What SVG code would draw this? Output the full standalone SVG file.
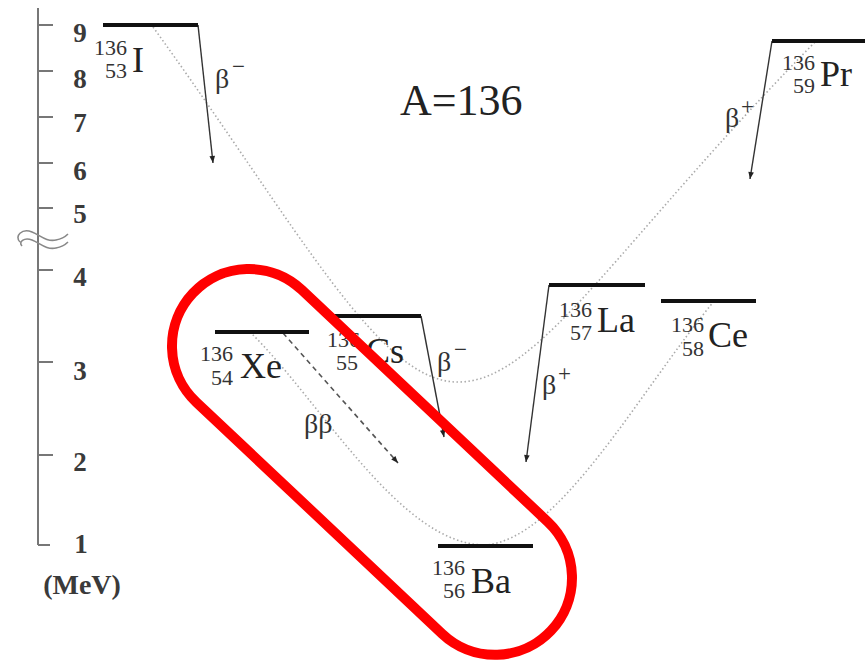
<svg xmlns="http://www.w3.org/2000/svg" width="865" height="663" viewBox="0 0 865 663">
<defs>
<style>
.lvl{stroke:#111;stroke-width:4;fill:none}
.ax{stroke:#777;stroke-width:2;fill:none}
.axt{font-family:"Liberation Serif",serif;font-size:27px;font-weight:bold;fill:#3a3a3a;text-anchor:middle}
.sym{font-family:"Liberation Serif",serif;font-size:36px;fill:#222}
.iso{font-family:"Liberation Serif",serif;font-size:22px;fill:#333;text-anchor:end}
.beta{font-family:"Liberation Serif",serif;font-size:28px;fill:#333}
.sup{font-family:"Liberation Serif",serif;font-size:23px;fill:#333}
.dec{stroke:#333;stroke-width:1.4;fill:none}
.dot{stroke:#aaa;stroke-width:1.6;fill:none;stroke-dasharray:1.5 2.5}
</style>
<marker id="ah" viewBox="0 0 10 10" refX="10" refY="5" markerWidth="11" markerHeight="7" orient="auto" markerUnits="userSpaceOnUse">
<path d="M0,1 L10,5 L0,9 z" fill="#222"/>
</marker>
</defs>
<rect width="865" height="663" fill="#fff"/>

<g id="axis">
<line class="ax" x1="38" y1="8" x2="38" y2="545"/>
<path class="ax" d="M38,25h15M38,71h15M38,117h15M38,163h15M38,208h15M38,270h15M38,362h15M38,455h15M38,545h12"/>
<path d="M20,242 c-6,-6 2,-14 12,-10 c8,3 14,10 24,8 c6,-1 10,-4 12,-6 M22,246 c-4,-4 2,-9 10,-6 c8,3 14,10 24,8 c6,-1 10,-4 12,-6" stroke="#888" stroke-width="1.6" fill="none"/>
<text class="axt" x="80" y="42">9</text>
<text class="axt" x="80" y="88">8</text>
<text class="axt" x="80" y="132">7</text>
<text class="axt" x="80" y="180">6</text>
<text class="axt" x="80" y="223">5</text>
<text class="axt" x="80" y="286">4</text>
<text class="axt" x="80" y="380">3</text>
<text class="axt" x="80" y="471">2</text>
<text class="axt" x="81" y="553">1</text>
<text class="axt" x="82" y="594" style="font-size:28px">(MeV)</text>
</g>

<text id="title" x="400" y="115" style="font-family:'Liberation Serif',serif;font-size:44px;fill:#222">A=136</text>

<g id="connectors">
<path class="dot" d="M153,27 C300,230 380,385 460,382 C540,380 620,240 817,40"/>
<path class="dot" d="M250,332 C320,400 400,545 485,545 C560,540 640,390 715,300"/>
<line class="dec" x1="198" y1="25" x2="213" y2="163" marker-end="url(#ah)"/>
<line class="dec" x1="421" y1="316" x2="444" y2="437" marker-end="url(#ah)"/>
<line class="dec" x1="549" y1="285" x2="526" y2="462" marker-end="url(#ah)"/>
<line class="dec" x1="772" y1="41" x2="750" y2="179" marker-end="url(#ah)"/>
<line x1="283" y1="333" x2="398" y2="463" stroke="#555" stroke-width="1.6" stroke-dasharray="5 4" marker-end="url(#ah)"/>
<text class="beta" x="215" y="88">β</text><text class="sup" x="232" y="74">−</text>
<text class="beta" x="437" y="371">β</text><text class="sup" x="454" y="357">−</text>
<text class="beta" x="542" y="394">β</text><text class="sup" x="558" y="381">+</text>
<text class="beta" x="725" y="127">β</text><text class="sup" x="741" y="114">+</text>
<text class="beta" x="304" y="433">ββ</text>
</g>

<g id="I136">
<line class="lvl" x1="103" y1="25" x2="198" y2="25"/>
<text class="iso" x="127" y="55">136</text>
<text class="iso" x="127" y="78">53</text>
<text class="sym" x="132" y="72">I</text>
</g>
<g id="Xe136">
<line class="lvl" x1="215" y1="332" x2="309" y2="332"/>
<text class="iso" x="233" y="361">136</text>
<text class="iso" x="233" y="385">54</text>
<text class="sym" x="240" y="378">Xe</text>
</g>
<g id="Cs136">
<line class="lvl" x1="330" y1="316" x2="421" y2="316"/>
<text class="iso" x="360" y="347">136</text>
<text class="iso" x="358" y="370">55</text>
<text class="sym" x="366" y="363">Cs</text>
</g>
<g id="Ba136">
<line class="lvl" x1="438" y1="546" x2="533" y2="546"/>
<text class="iso" x="465" y="575">136</text>
<text class="iso" x="465" y="598">56</text>
<text class="sym" x="471" y="593">Ba</text>
</g>
<g id="La136">
<line class="lvl" x1="549" y1="285" x2="645" y2="285"/>
<text class="iso" x="592" y="317">136</text>
<text class="iso" x="592" y="340">57</text>
<text class="sym" x="597" y="332">La</text>
</g>
<g id="Ce136">
<line class="lvl" x1="661" y1="301" x2="756" y2="301"/>
<text class="iso" x="704" y="332">136</text>
<text class="iso" x="704" y="356">58</text>
<text class="sym" x="708" y="347">Ce</text>
</g>
<g id="Pr136">
<line class="lvl" x1="772" y1="41" x2="865" y2="41"/>
<text class="iso" x="815" y="70">136</text>
<text class="iso" x="815" y="93">59</text>
<text class="sym" x="820" y="86">Pr</text>
</g>

<g id="highlight">
<rect x="-77" y="-77" width="492" height="154" rx="77" ry="77" fill="none" stroke="#ff0000" stroke-width="10" transform="translate(249,346) rotate(43.3)"/>
</g>
</svg>
